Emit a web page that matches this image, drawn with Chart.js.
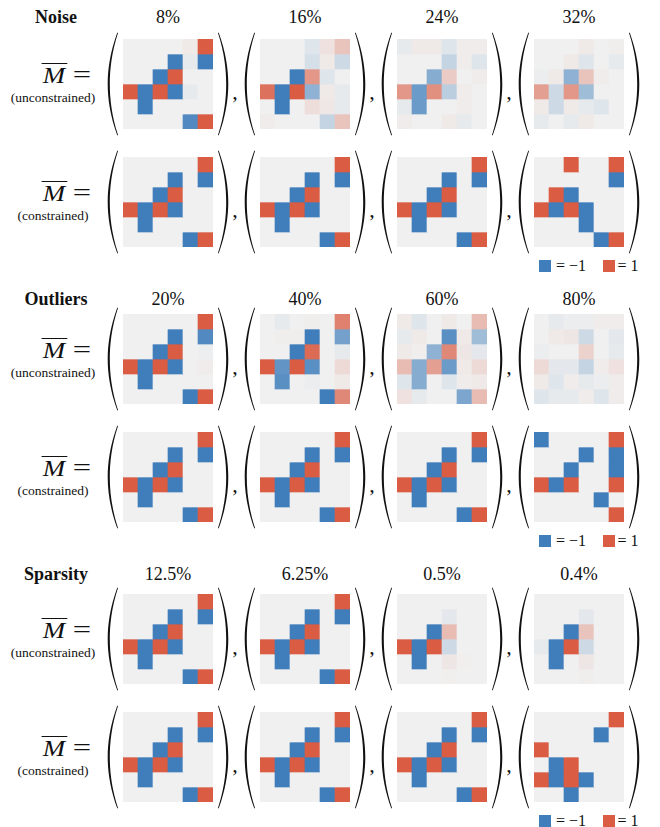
<!DOCTYPE html>
<html>
<head>
<meta charset="utf-8">
<script src="https://cdn.jsdelivr.net/npm/chart.js@4.4.1/dist/chart.umd.min.js"></script>
<style>
  body { margin: 0; background: #fff; }
  #pagina { position: relative; width: 660px; height: 827px; overflow: hidden; font-family: "Liberation Serif", "DejaVu Serif", serif; color: #111; }
  .abs { position: absolute; }
  .centro { transform: translate(-50%, -50%); white-space: nowrap; }
  .secao { font-weight: bold; font-size: 18px; }
  .nivel { font-size: 18px; }
  .rotulo { font-size: 13.5px; }
  .meq { font-size: 24px; white-space: nowrap; }
  .meq .m { display: inline-block; font-style: italic; transform: scaleX(1.12); border-top: 1px solid #111; line-height: 20px; padding: 1px 2px 0 1px; }
  .meq .eq { display: inline-block; transform: scaleX(1.3); margin-left: 9px; font-size: 25px; }
  .virgula { font-size: 22px; }
  .leg { font-size: 16px; white-space: nowrap; }
  .quad { position: absolute; width: 12px; height: 12px; }
  canvas { position: absolute; }
</style>
</head>
<body>
<div id="pagina"></div>
<script>
// valores das matrizes (linha por linha, 6x6), -1 azul, 1 vermelho
var limpa = [
  [0, 0, 0, 0, 0, 1],
  [0, 0, 0, -1, 0, -1],
  [0, 0, -1, 1, 0, 0],
  [1, -1, 1, -1, 0, 0],
  [0, -1, 0, 0, 0, 0],
  [0, 0, 0, 0, -1, 1]
];

var ruidoLivre8 = [
  [0, 0, 0, 0, 0.05, 1],
  [0, 0, 0, -1, -0.05, -1],
  [0, 0, -1, 1, 0, 0],
  [1, -1, 1, -1, -0.05, 0],
  [0, -1, 0, 0, 0, 0],
  [0, 0, 0, 0, -0.9, 1]
];
var ruidoLivre16 = [
  [0, 0, 0, -0.1, 0.1, 0.3],
  [0, 0, 0, -0.15, 0.05, -0.2],
  [0, 0, -1, 0.6, -0.1, 0],
  [0.85, -1, 1, -0.55, 0.05, -0.05],
  [0, -1, 0, 0.12, 0.06, -0.05],
  [0.03, 0, 0, 0, -0.25, 0.3]
];
var ruidoLivre24 = [
  [-0.05, 0.05, 0.05, -0.1, 0.03, 0.03],
  [0, 0, 0, -0.25, 0.03, -0.1],
  [0, 0, -0.6, 0.25, 0, 0.03],
  [0.6, -0.75, 0.65, -0.3, 0.03, 0],
  [-0.05, -0.75, 0, 0, 0.03, 0],
  [0.03, 0, 0, 0.05, -0.05, 0]
];
var ruidoLivre32 = [
  [0, 0, 0, 0.05, 0, 0.02],
  [0, 0, 0.05, -0.1, 0, -0.05],
  [-0.03, 0.05, -0.55, 0.3, 0.03, 0],
  [0.55, -0.2, 0.6, -0.45, 0, 0],
  [0.05, -0.2, 0.05, -0.05, -0.1, 0],
  [-0.05, 0, -0.05, 0.05, 0, 0]
];
var ruidoRestr32 = [
  [0, 0, 1, 0, 0, 1],
  [0, 0, 0, 0, 0, -1],
  [0, 1, -1, 0, 0, 0],
  [1, -1, 1, -1, 0, 0],
  [0, 0, 0, -1, 0, 0],
  [0, 0, 0, 0, -1, 1]
];

var outlierLivre20 = [
  [0, 0, 0, 0, 0, 1],
  [0, 0, 0, -1, 0, -0.9],
  [0, 0, -1, 1, 0, -0.02],
  [1, -1, 1, -1, 0, 0.03],
  [0, -1, 0, 0, 0, 0],
  [0, 0, 0, 0, -1, 1]
];
var outlierLivre40 = [
  [0, -0.05, 0, 0.02, 0, 0.75],
  [0, 0.02, 0.02, -1, 0, -0.7],
  [0, 0, -1, 0.9, 0, -0.05],
  [1, -0.8, 1, -0.85, 0, 0.15],
  [0, -0.85, 0, -0.03, 0, 0.05],
  [0, 0, 0, 0, -1, 0.7]
];
var outlierLivre60 = [
  [0.05, -0.1, 0, 0.05, 0, 0.35],
  [-0.05, 0.05, 0, -0.85, 0.05, -0.45],
  [0.05, 0.02, -0.55, 0.7, 0.07, -0.07],
  [0.35, -0.6, 0.55, -0.75, 0.05, 0.15],
  [-0.1, -0.6, 0, -0.1, 0.03, 0.05],
  [0.1, -0.05, 0, 0, -0.65, 0.35]
];
var outlierLivre80 = [
  [0, -0.05, -0.03, -0.03, 0.03, 0.03],
  [0, 0.05, 0.07, -0.2, 0, -0.07],
  [-0.03, 0, 0, 0.2, 0, -0.05],
  [0.15, -0.07, -0.07, -0.25, 0.03, 0.1],
  [0.05, -0.1, 0.03, -0.05, -0.03, 0.03],
  [-0.1, -0.05, -0.05, 0.03, -0.1, 0.03]
];
var outlierRestr80 = [
  [-1, 0, 0, 0, 0, 1],
  [0, 0, 0, -1, 0, -1],
  [0, 0, -1, 0, 0, -1],
  [1, -1, 1, 0, 0, 1],
  [0, 0, 0, 0, -1, 0],
  [0, 0, 0, 0, 0, 1]
];

var esparsoLivre05 = [
  [0, 0, 0, 0, 0, 0],
  [0, 0, 0, -0.07, 0, 0],
  [0, 0, -1, 0.35, 0, 0],
  [1, -1, 1, -0.2, 0, 0],
  [0, -1, 0, 0.07, 0.01, 0],
  [0, 0, 0, 0.01, 0, 0]
];
var esparsoLivre04 = [
  [0, 0, 0, 0, 0, 0],
  [0, 0, 0, -0.07, 0, 0],
  [0, 0, -1, 0.3, 0, 0],
  [-0.05, -1, 1, -0.2, 0, 0],
  [0, -1, 0, 0.07, 0, 0],
  [0, 0, 0, 0.02, 0, 0]
];
var esparsoRestr04 = [
  [0, 0, 0, 0, 0, 1],
  [0, 0, 0, 0, -1, 0],
  [1, 0, 0, 0, 0, 0],
  [0, -1, 1, 0, 0, 0],
  [1, -1, 1, -1, 0, 0],
  [0, 0, -1, 0, 0, 0]
];

var titulosSecao = ["Noise", "Outliers", "Sparsity"];
var niveisRuido = ["8%", "16%", "24%", "32%"];
var niveisOutlier = ["20%", "40%", "60%", "80%"];
var niveisEsparso = ["12.5%", "6.25%", "0.5%", "0.4%"];
var rotulosLinha = ["(unconstrained)", "(constrained)"];
var legendaTextos = ["= \u22121", "= 1"];

var linhasMatrizes = [
  [ruidoLivre8, ruidoLivre16, ruidoLivre24, ruidoLivre32],
  [limpa, limpa, limpa, ruidoRestr32],
  [outlierLivre20, outlierLivre40, outlierLivre60, outlierLivre80],
  [limpa, limpa, limpa, outlierRestr80],
  [limpa, limpa, esparsoLivre05, esparsoLivre04],
  [limpa, limpa, limpa, esparsoRestr04]
];

// layout
var toposLinhas = [39, 157, 314, 432, 594, 712];
var esquerdas = [123, 260, 397, 534];
var TAM = 90;
var yTitulos = [17, 299, 574];

var AZUL = [63, 126, 187], VERMELHO = [217, 92, 67], MEIO = [240, 240, 240];

function corDoValor(v) {
  var alvo = v < 0 ? AZUL : VERMELHO;
  var t = Math.min(1, Math.abs(v));
  var c = [];
  for (var k = 0; k < 3; k++) c.push(Math.round(MEIO[k] + (alvo[k] - MEIO[k]) * t));
  return "rgb(" + c.join(",") + ")";
}

var pagina = document.getElementById("pagina");

function addTexto(html, x, y, classe, centro) {
  var d = document.createElement("div");
  d.className = "abs " + classe + (centro ? " centro" : "");
  d.style.left = x + "px";
  d.style.top = y + "px";
  d.innerHTML = html;
  pagina.appendChild(d);
  return d;
}

function parentese(x, y, h, direito) {
  var ns = "http://www.w3.org/2000/svg";
  var svg = document.createElementNS(ns, "svg");
  svg.setAttribute("width", 11);
  svg.setAttribute("height", h);
  svg.setAttribute("viewBox", "0 0 11 " + h);
  svg.style.position = "absolute";
  svg.style.left = x + "px";
  svg.style.top = y + "px";
  var m = h / 2;
  var p = document.createElementNS(ns, "path");
  p.setAttribute("d",
    "M 10.3 0.5 C 3 " + (h * 0.2) + ", 0.7 " + (h * 0.36) + ", 0.7 " + m +
    " C 0.7 " + (h * 0.64) + ", 3 " + (h * 0.8) + ", 10.3 " + (h - 0.5) +
    " L 11 " + (h - 1) + " C 4.6 " + (h * 0.8) + ", 2.8 " + (h * 0.64) + ", 2.8 " + m +
    " C 2.8 " + (h * 0.36) + ", 4.6 " + (h * 0.2) + ", 11 1 Z");
  p.setAttribute("fill", "#111");
  if (direito) p.setAttribute("transform", "translate(11,0) scale(-1,1)");
  svg.appendChild(p);
  pagina.appendChild(svg);
}

function criaMatriz(x, y, valores) {
  var cv = document.createElement("canvas");
  cv.width = TAM;
  cv.height = TAM;
  cv.style.left = x + "px";
  cv.style.top = y + "px";
  cv.style.width = TAM + "px";
  cv.style.height = TAM + "px";
  pagina.appendChild(cv);

  var conjuntos = valores.map(function (linha, r) {
    return {
      label: "linha " + r,
      data: linha.map(function () { return 1; }),
      backgroundColor: linha.map(corDoValor),
      borderWidth: 0,
      barPercentage: 1,
      categoryPercentage: 1,
      stack: "m"
    };
  });

  new Chart(cv.getContext("2d"), {
    type: "bar",
    data: { labels: ["0", "1", "2", "3", "4", "5"], datasets: conjuntos },
    options: {
      responsive: false,
      animation: false,
      devicePixelRatio: 1,
      layout: { padding: 0 },
      plugins: { legend: { display: false }, tooltip: { enabled: false } },
      scales: {
        x: { display: false, stacked: true },
        y: { display: false, stacked: true, min: 0, max: 6, reverse: true }
      }
    }
  });
}

function criaLegenda(y) {
  var q1 = document.createElement("div");
  q1.className = "quad";
  q1.style.left = "539px"; q1.style.top = y + "px"; q1.style.background = corDoValor(-1);
  pagina.appendChild(q1);
  addTexto(legendaTextos[0], 571, y + 6, "leg", true);
  var q2 = document.createElement("div");
  q2.className = "quad";
  q2.style.left = "603px"; q2.style.top = y + "px"; q2.style.background = corDoValor(1);
  pagina.appendChild(q2);
  addTexto(legendaTextos[1], 628, y + 6, "leg", true);
}

function desenhaTudo() {
  var niveis = [niveisRuido, niveisOutlier, niveisEsparso];

  for (var s = 0; s < 3; s++) {
    addTexto(titulosSecao[s], 56, yTitulos[s], "secao", true);
    for (var c = 0; c < 4; c++) {
      addTexto(niveis[s][c], esquerdas[c] + TAM / 2, yTitulos[s], "nivel", true);
    }
  }

  for (var r = 0; r < linhasMatrizes.length; r++) {
    var yTopo = toposLinhas[r];
    var cy = yTopo + TAM / 2;
    addTexto('<span class="m">M</span><span class="eq">=</span>', 66, cy - 9, "meq", true);
    addTexto(rotulosLinha[r % 2], 53, cy + 14, "rotulo", true);
    for (var j = 0; j < 4; j++) {
      var xm = esquerdas[j];
      criaMatriz(xm, yTopo, linhasMatrizes[r][j]);
      parentese(xm - 16, yTopo - 7, TAM + 14, false);
      parentese(xm + TAM + 5, yTopo - 7, TAM + 14, true);
      if (j < 3) addTexto(",", xm + TAM + 22, cy + 8, "virgula", true);
    }
    if (r % 2 === 1) criaLegenda(yTopo + TAM + 13);
  }
}

desenhaTudo();
</script>
</body>
</html>
